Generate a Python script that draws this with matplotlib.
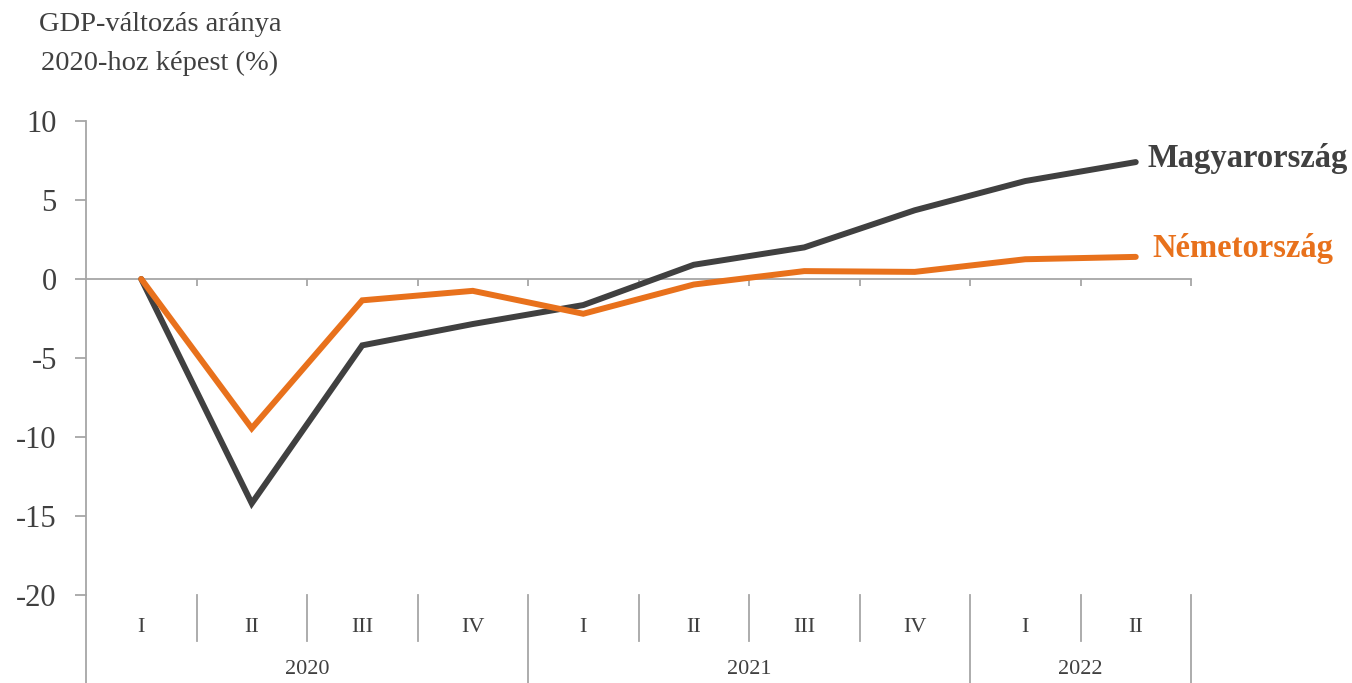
import matplotlib
matplotlib.use('Agg')
import matplotlib.pyplot as plt
import matplotlib.transforms as mtransforms
import numpy as np

# Data
quarters = ['I', 'II', 'III', 'IV', 'I', 'II', 'III', 'IV', 'I', 'II']
years = ['2020', '2021', '2022']
year_quarters = [4, 4, 2]
magyar = [0.0, -14.2, -4.2, -2.85, -1.65, 0.9, 2.0, 4.35, 6.2, 7.4]
nemet = [0.0, -9.45, -1.35, -0.75, -2.2, -0.35, 0.5, 0.45, 1.25, 1.4]

dark = '#404040'
orange = '#E8711C'
axis_col = '#A6A6A6'

plt.rcParams['font.family'] = ['Liberation Serif', 'DejaVu Serif']

fig = plt.figure(figsize=(13.52, 6.83), dpi=100)
ax = fig.add_axes([86 / 1352, 1 - 595 / 683, (1191 - 86) / 1352, 474 / 683])

x = np.arange(len(quarters))
ax.plot(x, magyar, color=dark, lw=4.3, solid_capstyle='round', solid_joinstyle='miter', zorder=3)
ax.plot(x, nemet, color=orange, lw=4.3, solid_capstyle='round', solid_joinstyle='miter', zorder=4)

ax.set_xlim(-0.5, len(quarters) - 0.5)
ax.set_ylim(-20, 10)
ax.set_yticks([10, 5, 0, -5, -10, -15, -20])
ax.set_yticklabels(['10', '5', '0', '-5', '-10', '-15', '-20'])

# axes styling
for s in ['top', 'right']:
    ax.spines[s].set_visible(False)
ax.spines['left'].set_color(axis_col)
ax.spines['left'].set_linewidth(1.3)
ax.spines['bottom'].set_position(('data', 0))
ax.spines['bottom'].set_color(axis_col)
ax.spines['bottom'].set_linewidth(1.3)
ax.tick_params(axis='y', direction='out', length=8, width=1.3, color=axis_col,
               labelsize=22, labelcolor=dark, pad=13)
ax.set_xticks(np.arange(0.5, len(quarters) - 0.4, 1.0))
ax.tick_params(axis='x', direction='out', length=5, width=1.3, color=axis_col,
               labelbottom=False)

# category table under the plot
trans = mtransforms.blended_transform_factory(ax.transData, ax.transAxes)
q_bottom = -(641 - 595) / 474
y_bottom = -(683 - 595) / 474
ax.plot([0, 0], [0, y_bottom], transform=ax.transAxes, color=axis_col, lw=1.3, clip_on=False)
for i, q in enumerate(quarters):
    ax.text(i, -(628 - 595) / 474, q, transform=trans, ha='center', va='center',
            fontsize=16, color=dark)
bounds = np.cumsum([0] + year_quarters) - 0.5
for b in np.arange(0.5, len(quarters) - 0.5, 1.0):
    if b not in bounds:
        ax.plot([b, b], [0, q_bottom], transform=trans, color=axis_col, lw=1.3, clip_on=False)
for b in bounds[1:]:
    ax.plot([b, b], [0, y_bottom], transform=trans, color=axis_col, lw=1.3, clip_on=False)
for i, yr in enumerate(years):
    ax.text((bounds[i] + bounds[i + 1]) / 2, -(670 - 595) / 474, yr, transform=trans,
            ha='center', va='center', fontsize=16, color=dark)

# series labels
ax.text(9.11, 7.6, 'Magyarország', color=dark,
        fontsize=23.5, fontweight='bold', ha='left', va='center', clip_on=False)
ax.text(9.15, 1.9, 'Németország', color=orange,
        fontsize=23.5, fontweight='bold', ha='left', va='center', clip_on=False)

# y axis title
fig.text(160 / 1352, 1 - 44 / 683, 'GDP-változás aránya\n2020-hoz képest (%)', ha='center',
         va='center', fontsize=20.5, color=dark, linespacing=1.75)

fig.savefig('out.png', dpi=100)
